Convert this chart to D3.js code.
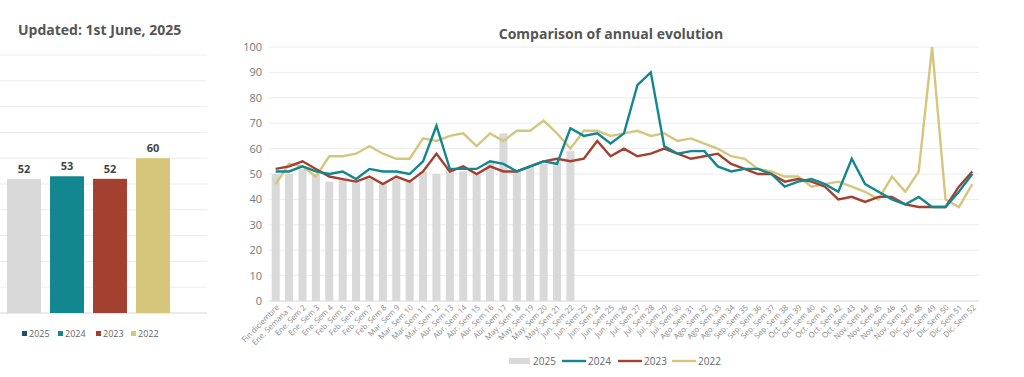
<!DOCTYPE html>
<html>
<head>
<meta charset="utf-8">
<script src="https://cdn.jsdelivr.net/npm/d3@7"></script>
<style>
  html, body { margin: 0; padding: 0; background: #fff; }
  svg { display: block; font-family: 'Open Sans', sans-serif; }
</style>
</head>
<body>
<svg id="chart" width="1024" height="377"></svg>
<script>
// summary bars (left)
const years = ['2025', '2024', '2023', '2022'];
const yearAvg = [52, 53, 52, 60];

// weekly comparison (right)
const weeks = ['Fin diciembre', 'Ene. Semana 1', 'Ene. Sem 2', 'Ene. Sem 3', 'Ene. Sem 4',
  'Feb. Sem 5', 'Feb. Sem 6', 'Feb. Sem 7', 'Feb. Sem 8', 'Mar. Sem 9', 'Mar. Sem 10',
  'Mar. Sem 11', 'Mar. Sem 12', 'Abr. Sem 13', 'Abr. Sem 14', 'Abr. Sem 15', 'Abr. Sem 16',
  'Abr. Sem 17', 'May. Sem 18', 'May. Sem 19', 'May. Sem 20', 'May. Sem 21', 'Jun. Sem 22',
  'Jun. Sem 23', 'Jun. Sem 24', 'Jun. Sem 25', 'Jun. Sem 26', 'Jul. Sem 27', 'Jul. Sem 28',
  'Jul. Sem 29', 'Jul. Sem 30', 'Ago. Sem 31', 'Ago. Sem 32', 'Ago. Sem 33', 'Ago. Sem 34',
  'Sep. Sem 35', 'Sep. Sem 36', 'Sep. Sem 37', 'Sep. Sem 38', 'Oct. Sem 39', 'Oct. Sem 40',
  'Oct. Sem 41', 'Oct. Sem 42', 'Oct. Sem 43', 'Nov. Sem 44', 'Nov. Sem 45', 'Nov. Sem 46',
  'Nov. Sem 47', 'Dic. Sem 48', 'Dic. Sem 49', 'Dic. Sem 50', 'Dic. Sem 51', 'Dic. Sem 52'];

const s2025 = [50, 50, 52, 50, 47, 48, 47, 48, 46, 48, 47, 51, 50, 52, 51, 50, 55, 66, 51, 53, 54, 55, 59];
const s2024 = [51, 51, 53, 51, 50, 51, 48, 52, 51, 51, 50, 55, 69, 52, 52, 52, 55, 54, 51, 53, 55, 54,
  68, 65, 66, 62, 66, 85, 90, 61, 58, 59, 59, 53, 51, 52, 52, 50, 45, 47, 48, 46, 43, 56, 46, 43,
  40, 38, 41, 37, 37, 43, 50];
const s2023 = [52, 53, 55, 52, 49, 48, 47, 49, 46, 49, 47, 51, 58, 51, 53, 50, 53, 51, 51, 53, 55, 56,
  55, 56, 63, 57, 60, 57, 58, 60, 58, 56, 57, 58, 54, 52, 50, 50, 47, 48, 47, 45, 40, 41, 39, 41,
  41, 38, 37, 37, 37, 45, 51];
const s2022 = [46, 54, 53, 49, 57, 57, 58, 61, 58, 56, 56, 64, 63, 65, 66, 61, 66, 63, 67, 67, 71, 66,
  60, 67, 67, 65, 66, 67, 65, 66, 63, 64, 62, 60, 57, 56, 52, 51, 49, 49, 45, 46, 47, 45, 43, 40,
  49, 43, 51, 100, 40, 37, 46];

const yTicks = [0, 10, 20, 30, 40, 50, 60, 70, 80, 90, 100];

const colors = {
  '2025': '#d9d9d9',
  '2024': '#12878f',
  '2023': '#a3402f',
  '2022': '#d5c67c',
};

const svg = d3.select('#chart');
svg.append('rect').attr('width', 1024).attr('height', 377).attr('fill', '#fff');

// ---------- left panel ----------
const left = svg.append('g');

left.append('text')
  .attr('x', 18)
  .attr('y', 35)
  .attr('font-size', 14)
  .attr('font-weight', 700)
  .attr('fill', '#555')
  .text('Updated: 1st June, 2025');

const lx = d3.scaleBand()
  .domain(years)
  .range([-2, 179])
  .paddingInner(0.21)
  .paddingOuter(0.21);

const ly = d3.scaleLinear()
  .domain([0, 100])
  .range([313, 55]);

left.selectAll('.lgrid')
  .data(yTicks)
  .enter().append('line')
    .attr('class', 'lgrid')
    .attr('x1', 0)
    .attr('x2', 207)
    .attr('y1', d => ly(d))
    .attr('y2', d => ly(d))
    .attr('stroke', d => (d === 0 ? '#d6d6d6' : '#ececec'))
    .attr('stroke-width', 1);

left.selectAll('.lbar')
  .data(years)
  .enter().append('rect')
    .attr('class', 'lbar')
    .attr('x', d => lx(d))
    .attr('width', lx.bandwidth())
    .attr('y', (d, i) => ly(yearAvg[i]))
    .attr('height', (d, i) => ly(0) - ly(yearAvg[i]))
    .attr('fill', d => colors[d]);

left.selectAll('.llabel')
  .data(years)
  .enter().append('text')
    .attr('class', 'llabel')
    .attr('x', d => lx(d) + lx.bandwidth() / 2)
    .attr('y', (d, i) => ly(yearAvg[i]) - 6)
    .attr('text-anchor', 'middle')
    .attr('font-size', 11)
    .attr('font-weight', 700)
    .attr('fill', '#444')
    .text((d, i) => yearAvg[i]);

// legend squares: first marker is dark blue in the original
const leftLegendColors = ['#1f4f6e', colors['2024'], colors['2023'], colors['2022']];
const leftLegendX = [22, 58, 96, 131];
const leftLegend = left.selectAll('.lleg')
  .data(years)
  .enter().append('g')
    .attr('class', 'lleg')
    .attr('transform', (d, i) => `translate(${leftLegendX[i]}, 334)`);

leftLegend.append('rect')
  .attr('x', 0)
  .attr('y', -3)
  .attr('width', 5)
  .attr('height', 5)
  .attr('fill', (d, i) => leftLegendColors[i]);

leftLegend.append('text')
  .attr('x', 7)
  .attr('y', 3)
  .attr('font-size', 9)
  .attr('fill', '#666')
  .text(d => d);

// ---------- right panel ----------
const right = svg.append('g');

right.append('text')
  .attr('x', 611)
  .attr('y', 39)
  .attr('text-anchor', 'middle')
  .attr('font-size', 14)
  .attr('font-weight', 700)
  .attr('fill', '#555')
  .text('Comparison of annual evolution');

const x = d3.scaleBand()
  .domain(weeks)
  .range([269, 979])
  .paddingInner(0.4)
  .paddingOuter(0.2);

const y = d3.scaleLinear()
  .domain([0, 100])
  .range([301, 47]);

right.selectAll('.grid')
  .data(yTicks)
  .enter().append('line')
    .attr('class', 'grid')
    .attr('x1', 269)
    .attr('x2', 979)
    .attr('y1', d => y(d))
    .attr('y2', d => y(d))
    .attr('stroke', d => (d === 0 ? '#d6d6d6' : '#ececec'))
    .attr('stroke-width', 1);

const yAxis = right.append('g')
  .attr('transform', 'translate(262, 0)')
  .call(d3.axisLeft(y).tickValues(yTicks).tickSize(0).tickPadding(0));
yAxis.select('.domain').remove();
yAxis.selectAll('text')
  .attr('font-family', "'Open Sans', sans-serif")
  .attr('font-size', 11)
  .attr('fill', '#777');

const xAxis = right.append('g')
  .attr('transform', 'translate(0, 301)')
  .call(d3.axisBottom(x).tickSize(0).tickPadding(0));
xAxis.select('.domain').remove();
xAxis.selectAll('text')
  .attr('font-family', "'Open Sans', sans-serif")
  .attr('font-size', 7.8)
  .attr('fill', '#8a8a8a')
  .attr('text-anchor', 'end')
  .attr('dy', 0)
  .attr('transform', 'translate(4, 7) rotate(-45)');

right.selectAll('.bar')
  .data(s2025)
  .enter().append('rect')
    .attr('class', 'bar')
    .attr('x', (d, i) => x(weeks[i]))
    .attr('width', x.bandwidth())
    .attr('y', d => y(d))
    .attr('height', d => y(0) - y(d))
    .attr('fill', colors['2025']);

const line = d3.line()
  .x((d, i) => x(weeks[i]) + x.bandwidth() / 2)
  .y(d => y(d));

const series = [
  { key: '2022', values: s2022 },
  { key: '2023', values: s2023 },
  { key: '2024', values: s2024 },
];

right.selectAll('.series')
  .data(series)
  .enter().append('path')
    .attr('class', 'series')
    .attr('d', d => line(d.values))
    .attr('fill', 'none')
    .attr('stroke', d => colors[d.key])
    .attr('stroke-width', 2.4)
    .attr('stroke-linejoin', 'miter');

// bottom legend
const legendItems = [
  { key: '2025', x: 509, type: 'rect' },
  { key: '2024', x: 562, type: 'line' },
  { key: '2023', x: 618, type: 'line' },
  { key: '2022', x: 672, type: 'line' },
];

const legend = right.selectAll('.leg')
  .data(legendItems)
  .enter().append('g')
    .attr('class', 'leg')
    .attr('transform', d => `translate(${d.x}, 361)`);

legend.filter(d => d.type === 'rect').append('rect')
  .attr('x', 0)
  .attr('y', -3)
  .attr('width', 21)
  .attr('height', 6)
  .attr('fill', d => colors[d.key]);

legend.filter(d => d.type === 'line').append('line')
  .attr('x1', 0)
  .attr('x2', 24)
  .attr('y1', 0)
  .attr('y2', 0)
  .attr('stroke', d => colors[d.key])
  .attr('stroke-width', 2.4);

legend.append('text')
  .attr('x', d => (d.type === 'rect' ? 24 : 26))
  .attr('y', 3.5)
  .attr('font-size', 10)
  .attr('fill', '#666')
  .text(d => d.key);
</script>
</body>
</html>
